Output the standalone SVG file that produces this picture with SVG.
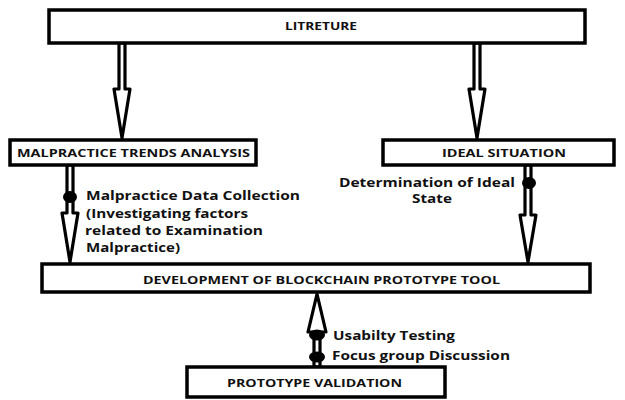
<svg xmlns="http://www.w3.org/2000/svg" width="625" height="400" viewBox="0 0 625 400">
<style>
.box{fill:#fff;stroke:#000;stroke-width:3.5}
.hd{font-family:"Open Sans","Liberation Sans",sans-serif;font-weight:bold;font-size:11px;fill:#111}
.lb{font-family:"Open Sans","Liberation Sans",sans-serif;font-weight:bold;font-size:12px;fill:#111}
.arr{fill:#fff;stroke:#000;stroke-width:3.2;stroke-linejoin:round}
.dot{fill:#000}
</style>
<rect width="625" height="400" fill="#fff"/>
<g id="connectors">
<polygon class="arr" points="119,43 125,43 125,89 130,89 122,138 114,89 119,89"/>
<polygon class="arr" points="474,43 480,43 480,89 485,89 477,138 469,89 474,89"/>
<polygon class="arr" points="67,165 73,165 73,213 78,213 70,262 62,213 67,213"/>
<ellipse class="dot" cx="70" cy="197" rx="7" ry="6"/>
<polygon class="arr" points="525,165 531,165 531,215 536,215 528,262 520,215 525,215"/>
<ellipse class="dot" cx="529" cy="183" rx="7" ry="6"/>
<polygon class="arr" points="314,367 320,367 320,332 326,332 317,294 308,332 314,332"/>
<ellipse class="dot" cx="317" cy="335" rx="8" ry="5.5"/>
<ellipse class="dot" cx="317" cy="357" rx="8" ry="5.5"/>
</g>
<g id="litreture">
<rect class="box" x="49" y="10" width="536" height="33"/>
<text class="hd" x="321" y="30" text-anchor="middle" textLength="72" lengthAdjust="spacingAndGlyphs">LITRETURE</text>
</g>
<g id="malpractice-trends">
<rect class="box" x="10" y="140" width="246" height="25"/>
<text class="hd" x="17" y="157" textLength="233" lengthAdjust="spacingAndGlyphs">MALPRACTICE TRENDS ANALYSIS</text>
</g>
<g id="ideal-situation">
<rect class="box" x="383" y="140" width="231" height="25"/>
<text class="hd" x="442" y="157" textLength="124" lengthAdjust="spacingAndGlyphs">IDEAL SITUATION</text>
</g>
<g id="development">
<rect class="box" x="42" y="264" width="548" height="28"/>
<text class="hd" x="143" y="284" textLength="357" lengthAdjust="spacingAndGlyphs">DEVELOPMENT OF BLOCKCHAIN PROTOTYPE TOOL</text>
</g>
<g id="prototype-validation">
<rect class="box" x="187" y="367" width="258" height="30"/>
<text class="hd" x="227" y="387" textLength="175" lengthAdjust="spacingAndGlyphs">PROTOTYPE VALIDATION</text>
</g>
<g id="labels">
<text class="lb" x="86" y="200" textLength="214" lengthAdjust="spacingAndGlyphs">Malpractice Data Collection</text>
<text class="lb" x="86" y="218" textLength="162" lengthAdjust="spacingAndGlyphs">(Investigating factors</text>
<text class="lb" x="85" y="235" textLength="178" lengthAdjust="spacingAndGlyphs">related to Examination</text>
<text class="lb" x="86" y="252" textLength="94" lengthAdjust="spacingAndGlyphs">Malpractice)</text>
<text class="lb" x="339" y="187" textLength="176" lengthAdjust="spacingAndGlyphs">Determination of Ideal</text>
<text class="lb" x="412" y="203" textLength="40" lengthAdjust="spacingAndGlyphs">State</text>
<text class="lb" x="333" y="340" textLength="122" lengthAdjust="spacingAndGlyphs">Usabilty Testing</text>
<text class="lb" x="332" y="360" textLength="178" lengthAdjust="spacingAndGlyphs">Focus group Discussion</text>
</g>
</svg>
